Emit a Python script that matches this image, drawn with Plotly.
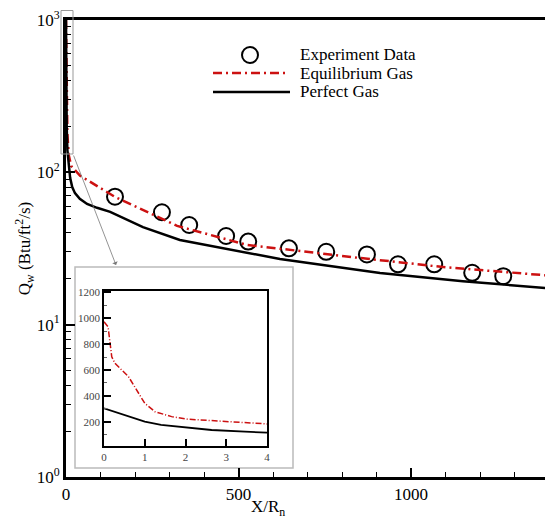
import plotly.graph_objects as go

# ---------------- data ----------------
exp_x = [142, 278, 357, 464, 528, 646, 754, 872, 962, 1067, 1177, 1267]
exp_q = [69.2, 54.7, 45.1, 38.2, 35.1, 31.7, 30.1, 28.9, 24.9, 24.9, 21.9, 20.8]

eq_x = [0, 0.5, 1, 2, 4, 8, 15, 41, 142, 322, 524, 852, 1100, 1400]
eq_q = [1000, 700, 340, 220, 180, 130, 110, 95, 69, 44.5, 33.4, 27.4, 23.8, 21.0]

pg_x = [0, 0.5, 1, 2, 4, 8, 12, 18, 26, 40, 61, 90, 128, 223, 330, 620, 910, 1150, 1400]
pg_q = [1000, 600, 300, 200, 140, 105, 92, 80, 73, 67, 62, 58.5, 55, 43.7, 36, 27, 21.8, 19.3, 17.3]

# inset (zoom near the nose)
in_eq_x = [0, 0.1, 0.19, 0.27, 0.6, 1.0, 1.25, 1.66, 2.07, 3.05, 4.0]
in_eq_q = [971, 933, 702, 651, 549, 344, 279, 241, 221, 202, 185]
in_pg_x = [0, 0.6, 1.0, 1.4, 2.0, 2.64, 3.46, 4.0]
in_pg_q = [305, 241, 202, 177, 156, 138, 125, 118]

series_names = ["Experiment Data", "Equilibrium Gas", "Perfect Gas"]

y_tickvals = [1, 10, 100, 1000]
y_ticktext = ["10<sup>0</sup>", "10<sup>1</sup>", "10<sup>2</sup>", "10<sup>3</sup>"]
x_tickvals = [0, 500, 1000]
x_ticktext = ["0", "500", "1000"]
in_x_ticks = [0, 1, 2, 3, 4]
in_y_ticks = [200, 400, 600, 800, 1000, 1200]

SERIF = "Liberation Serif, Times New Roman, Times, serif"
RED = "#cc1111"
EQ_DASH = "9px,4px,2px,4px"

fig = go.Figure()

fig.add_trace(go.Scatter(
    x=exp_x, y=exp_q, mode="markers", name=series_names[0],
    marker=dict(symbol="circle-open", size=16, color="black", line=dict(width=2, color="black")),
))
fig.add_trace(go.Scatter(
    x=eq_x, y=eq_q, mode="lines", name=series_names[1],
    line=dict(color=RED, width=2.5, dash=EQ_DASH),
))
fig.add_trace(go.Scatter(
    x=pg_x, y=pg_q, mode="lines", name=series_names[2],
    line=dict(color="black", width=2.5),
))

# inset traces
fig.add_trace(go.Scatter(
    x=in_eq_x, y=in_eq_q, mode="lines", showlegend=False, xaxis="x2", yaxis="y2",
    line=dict(color=RED, width=1.5, dash="6px,2px,1px,2px"),
))
fig.add_trace(go.Scatter(
    x=in_pg_x, y=in_pg_q, mode="lines", showlegend=False, xaxis="x2", yaxis="y2",
    line=dict(color="black", width=1.8),
))

W, H = 545, 523
L, R, T, B = 66, 0, 20, 46
pw, ph = W - L - R, H - T - B


def px(xp):
    return (xp - L) / pw


def py(yp):
    return (H - B - yp) / ph


fig.update_layout(
    width=W, height=H,
    margin=dict(l=L, r=R, t=T, b=B, autoexpand=False),
    paper_bgcolor="white", plot_bgcolor="white",
    font=dict(family=SERIF, color="black"),
    showlegend=False,
    xaxis=dict(
        range=[0, 1388], showgrid=False, zeroline=False, automargin=False,
        showline=True, linecolor="black", linewidth=3, mirror=True,
        ticks="inside", ticklen=9, tickwidth=2, tickcolor="black",
        tickvals=x_tickvals, ticktext=x_ticktext,
        tickfont=dict(family=SERIF, size=17),
        minor=dict(ticks="inside", dtick=100, ticklen=5, tickwidth=1, tickcolor="black", showgrid=False),
    ),
    yaxis=dict(
        type="log", range=[0, 3], showgrid=False, zeroline=False, automargin=False,
        showline=True, linecolor="black", linewidth=3,
        ticks="inside", ticklen=9, tickwidth=2, tickcolor="black",
        tickvals=y_tickvals, ticktext=y_ticktext,
        tickfont=dict(family=SERIF, size=17),
        minor=dict(ticks="inside", dtick="D1", ticklen=5, tickwidth=1, tickcolor="black", showgrid=False),
        title=dict(text="Q<sub>w</sub> (Btu/ft<sup>2</sup>/s)", font=dict(family=SERIF, size=17), standoff=2),
    ),
    xaxis2=dict(
        domain=[px(104), px(267)], anchor="y2", range=[0, 4], automargin=False,
        showgrid=False, zeroline=False, showline=True, linecolor="black", linewidth=1.5, mirror=True,
        ticks="inside", ticklen=7, tickwidth=1.5, tickcolor="black",
        tickvals=in_x_ticks, tickfont=dict(family=SERIF, size=11, color="#444"),
    ),
    yaxis2=dict(
        domain=[py(446), py(291)], anchor="x2", range=[15, 1208], automargin=False,
        showgrid=False, zeroline=False, showline=True, linecolor="black", linewidth=1.5, mirror=True,
        ticks="inside", ticklen=7, tickwidth=1.5, tickcolor="black",
        tickvals=in_y_ticks, tickfont=dict(family=SERIF, size=11, color="#444"),
        minor=dict(ticks="inside", dtick=100, ticklen=3, tickwidth=1, tickcolor="#666", showgrid=False),
    ),
)

# legend (drawn by hand to match the compact layout)
leg_rows = [55, 73, 92]
fig.add_shape(type="circle", xref="paper", yref="paper",
              x0=px(242), x1=px(258), y0=py(leg_rows[0] + 8), y1=py(leg_rows[0] - 8),
              line=dict(color="black", width=2))
fig.add_shape(type="line", xref="paper", yref="paper",
              x0=px(213), x1=px(289), y0=py(leg_rows[1]), y1=py(leg_rows[1]),
              line=dict(color=RED, width=2.5, dash=EQ_DASH))
fig.add_shape(type="line", xref="paper", yref="paper",
              x0=px(213), x1=px(290), y0=py(leg_rows[2]), y1=py(leg_rows[2]),
              line=dict(color="black", width=2.5))
for name, row in zip(series_names, leg_rows):
    fig.add_annotation(xref="paper", yref="paper", x=px(298), y=py(row), xanchor="left", yanchor="middle",
                       text=name, showarrow=False, font=dict(family=SERIF, size=17, color="black"))

# inset frame
fig.add_shape(type="rect", xref="paper", yref="paper",
              x0=px(75), x1=px(293), y0=py(468), y1=py(267),
              line=dict(color="#bbbbbb", width=1.5), fillcolor="white", layer="below")
# zoom region box
fig.add_shape(type="rect", xref="paper", yref="paper",
              x0=px(61), x1=px(73), y0=py(154), y1=py(10.5),
              line=dict(color="#999999", width=1), layer="above")
# arrow to inset
fig.add_annotation(xref="paper", yref="paper", x=px(116), y=py(265),
                   ax=-43, ay=-111, axref="pixel", ayref="pixel",
                   showarrow=True, arrowhead=1, arrowsize=1.2, arrowwidth=0.8, arrowcolor="#777777", text="")
# x axis title
fig.add_annotation(xref="paper", yref="paper", x=px(268), y=py(508), xanchor="center", yanchor="middle",
                   text="X/R<sub>n</sub>", showarrow=False, font=dict(family=SERIF, size=17))

fig.write_html("out.html", config={"displayModeBar": False},
               post_script="document.body.style.margin='0';document.body.style.overflow='hidden';")
